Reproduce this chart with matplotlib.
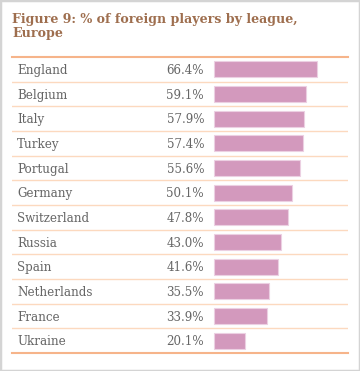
import matplotlib.pyplot as plt
from matplotlib.patches import Rectangle
import matplotlib.transforms as mtransforms

leagues = ["England", "Belgium", "Italy", "Turkey", "Portugal", "Germany",
           "Switzerland", "Russia", "Spain", "Netherlands", "France", "Ukraine"]
foreign_pct = [66.4, 59.1, 57.9, 57.4, 55.6, 50.1, 47.8, 43.0, 41.6, 35.5, 33.9, 20.1]

W, H = 360, 371
fig = plt.figure(figsize=(W / 100, H / 100), dpi=100)
plt.rcParams['font.family'] = ['DejaVu Serif']

# grey frame round the whole figure
fig.patches.append(Rectangle((0, 0), 1, 1, transform=fig.transFigure,
                             fill=False, edgecolor='#d4d4d4', linewidth=2.5))

title_color = '#9e6e4e'
fig.text(12 / W, 1 - 22.5 / H, "Figure 9: % of foreign players by league,",
         ha='left', va='baseline', fontsize=9.1, fontweight='bold', color=title_color)
fig.text(12 / W, 1 - 37.5 / H, "Europe",
         ha='left', va='baseline', fontsize=9.1, fontweight='bold', color=title_color)

top, bottom, left, right = 57, 353, 12, 348
ax = fig.add_axes([left / W, 1 - bottom / H, (right - left) / W, (bottom - top) / H])

px_per_pct = 1.55
x0 = -(214 - left) / px_per_pct
ax.set_xlim(x0, x0 + (right - left) / px_per_pct)
ax.set_ylim(len(leagues) - 0.5, -0.5)

rows = list(range(len(leagues)))
ax.barh(rows, foreign_pct, left=0, height=0.65, color='#d399bd',
        edgecolor='#ecd0e2', linewidth=0.8)

row_px = (bottom - top) / len(leagues)
tr = mtransforms.blended_transform_factory(ax.transAxes, ax.transData)
for i, (name, v) in enumerate(zip(leagues, foreign_pct)):
    yb = i + 4.8 / row_px
    ax.text((17 - left) / (right - left), yb, name, transform=tr, ha='left',
            va='baseline', fontsize=8.6, color='#666666')
    ax.text((204 - left) / (right - left), yb, f"{v:.1f}%", transform=tr,
            ha='right', va='baseline', fontsize=8.6, color='#666666')

for i in range(1, len(leagues)):
    ax.axhline(i - 0.5, color='#fcd9bf', linewidth=1.0)
ax.axhline(-0.5, color='#f6b48a', linewidth=1.5, clip_on=False)
ax.axhline(len(leagues) - 0.5, color='#f6b48a', linewidth=1.5, clip_on=False)

ax.axis('off')
fig.savefig('out.png', dpi=100)
